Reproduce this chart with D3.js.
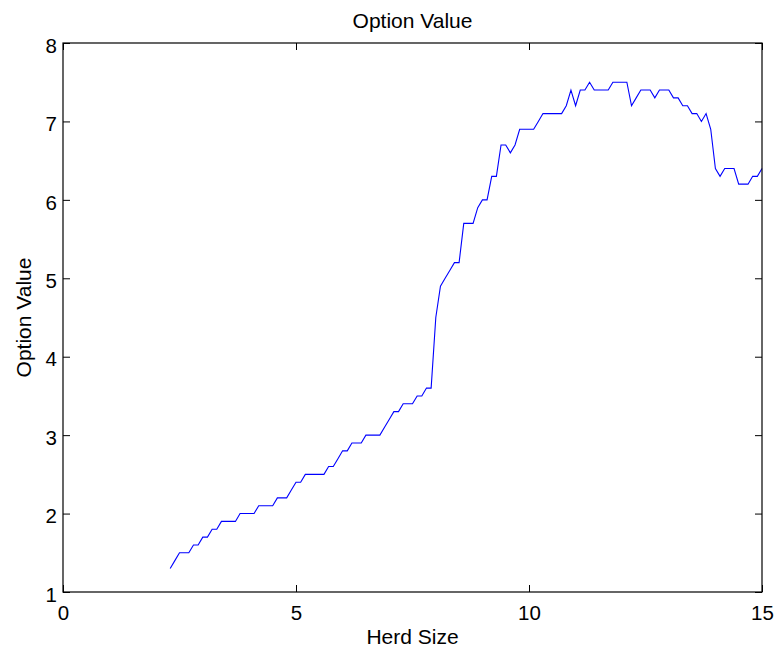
<!DOCTYPE html>
<html>
<head>
<meta charset="utf-8">
<script src="https://cdn.jsdelivr.net/npm/d3@7"></script>
<style>
  html, body { margin: 0; padding: 0; background: #fff; }
  svg { display: block; }
  text { font-family: "Liberation Sans", Arial, Helvetica, sans-serif; fill: #000; }
</style>
</head>
<body>
<svg id="chart" width="778" height="656"></svg>
<script>
// Herd size grid and the corresponding option value
const herdSize = [
  2.3, 2.4, 2.5, 2.6, 2.7, 2.8, 2.9, 3.0, 3.1, 3.2, 3.3, 3.4, 3.5, 3.6, 3.7, 3.8, 3.9,
  4.0, 4.1, 4.2, 4.3, 4.4, 4.5, 4.6, 4.7, 4.8, 4.9, 5.0, 5.1, 5.2, 5.3, 5.4, 5.5, 5.6,
  5.7, 5.8, 5.9, 6.0, 6.1, 6.2, 6.3, 6.4, 6.5, 6.6, 6.7, 6.8, 6.9, 7.0, 7.1, 7.2, 7.3,
  7.4, 7.5, 7.6, 7.7, 7.8, 7.9, 8.0, 8.1, 8.2, 8.3, 8.4, 8.5, 8.6, 8.7, 8.8, 8.9, 9.0,
  9.1, 9.2, 9.3, 9.4, 9.5, 9.6, 9.7, 9.8, 9.9, 10.0, 10.1, 10.2, 10.3, 10.4, 10.5, 10.6,
  10.7, 10.8, 10.9, 11.0, 11.1, 11.2, 11.3, 11.4, 11.5, 11.6, 11.7, 11.8, 11.9, 12.0,
  12.1, 12.2, 12.3, 12.4, 12.5, 12.6, 12.7, 12.8, 12.9, 13.0, 13.1, 13.2, 13.3, 13.4,
  13.5, 13.6, 13.7, 13.8, 13.9, 14.0, 14.1, 14.2, 14.3, 14.4, 14.5, 14.6, 14.7, 14.8,
  14.9, 15.0
];
const optionValue = [
  1.3, 1.4, 1.5, 1.5, 1.5, 1.6, 1.6, 1.7, 1.7, 1.8, 1.8, 1.9, 1.9, 1.9, 1.9, 2.0, 2.0,
  2.0, 2.0, 2.1, 2.1, 2.1, 2.1, 2.2, 2.2, 2.2, 2.3, 2.4, 2.4, 2.5, 2.5, 2.5, 2.5, 2.5,
  2.6, 2.6, 2.7, 2.8, 2.8, 2.9, 2.9, 2.9, 3.0, 3.0, 3.0, 3.0, 3.1, 3.2, 3.3, 3.3, 3.4,
  3.4, 3.4, 3.5, 3.5, 3.6, 3.6, 4.5, 4.9, 5.0, 5.1, 5.2, 5.2, 5.7, 5.7, 5.7, 5.9, 6.0,
  6.0, 6.3, 6.3, 6.7, 6.7, 6.6, 6.7, 6.9, 6.9, 6.9, 6.9, 7.0, 7.1, 7.1, 7.1, 7.1,
  7.1, 7.2, 7.4, 7.2, 7.4, 7.4, 7.5, 7.4, 7.4, 7.4, 7.4, 7.5, 7.5, 7.5,
  7.5, 7.2, 7.3, 7.4, 7.4, 7.4, 7.3, 7.4, 7.4, 7.4, 7.3, 7.3, 7.2, 7.2,
  7.1, 7.1, 7.0, 7.1, 6.9, 6.4, 6.3, 6.4, 6.4, 6.4, 6.2, 6.2, 6.2, 6.3,
  6.3, 6.4
];
const xTicks = [0, 5, 10, 15];
const yTicks = [1, 2, 3, 4, 5, 6, 7, 8];

const titleText = "Option Value";
const xLabel = "Herd Size";
const yLabel = "Option Value";

const plotLeft = 63, plotRight = 762, plotTop = 43, plotBottom = 592;
const svg = d3.select("#chart");

const x = d3.scaleLinear().domain([0, 15]).range([plotLeft, plotRight]);
const y = d3.scaleLinear().domain([1, 8]).range([plotBottom, plotTop]);

const tickLen = 7;
const tickFont = 20.5;
const labelFont = 21;
const fmt = d3.format("d");

// Bottom axis: inward ticks, labels below
const xAxisBottom = d3.axisBottom(x).tickValues(xTicks).tickFormat(fmt).tickSizeInner(-tickLen).tickSizeOuter(0).tickPadding(13);
const gxb = svg.append("g").attr("transform", `translate(0,${plotBottom})`).call(xAxisBottom);
// Top axis: ticks only
const xAxisTop = d3.axisTop(x).tickValues(xTicks).tickSizeInner(-tickLen).tickSizeOuter(0).tickFormat("");
const gxt = svg.append("g").attr("transform", `translate(0,${plotTop})`).call(xAxisTop);
// Left axis: inward ticks, labels left
const yAxisLeft = d3.axisLeft(y).tickValues(yTicks).tickFormat(fmt).tickSizeInner(-tickLen).tickSizeOuter(0).tickPadding(6);
const gyl = svg.append("g").attr("transform", `translate(${plotLeft},0)`).call(yAxisLeft);
// Right axis: ticks only
const yAxisRight = d3.axisRight(y).tickValues(yTicks).tickSizeInner(-tickLen).tickSizeOuter(0).tickFormat("");
const gyr = svg.append("g").attr("transform", `translate(${plotRight},0)`).call(yAxisRight);

[gxb, gxt, gyl, gyr].forEach(g => {
  g.select(".domain").remove();
  g.selectAll(".tick line").attr("stroke", "#000").attr("stroke-width", 1);
  g.selectAll(".tick text")
    .style("font-family", '"Liberation Sans", Arial, sans-serif')
    .style("font-size", tickFont + "px")
    .attr("fill", "#000");
});
gyl.selectAll(".tick text").attr("dy", "0.45em");
gxb.selectAll(".tick text").attr("dy", "0.71em");

// Data line
const line = d3.line()
  .x((d, i) => x(herdSize[i]))
  .y(d => y(d));

svg.append("path")
  .datum(optionValue)
  .attr("fill", "none")
  .attr("stroke", "#0000ff")
  .attr("stroke-width", 1.1)
  .attr("stroke-linejoin", "miter")
  .attr("d", line);

// Axes box
svg.append("rect")
  .attr("x", plotLeft).attr("y", plotTop)
  .attr("width", plotRight - plotLeft).attr("height", plotBottom - plotTop)
  .attr("fill", "none").attr("stroke", "#000").attr("stroke-width", 1.2);

// Title and axis labels
svg.append("text")
  .attr("x", (plotLeft + plotRight) / 2).attr("y", 28)
  .attr("text-anchor", "middle")
  .style("font-size", labelFont + "px")
  .text(titleText);

svg.append("text")
  .attr("x", (plotLeft + plotRight) / 2).attr("y", 644)
  .attr("text-anchor", "middle")
  .style("font-size", labelFont + "px")
  .text(xLabel);

svg.append("text")
  .attr("transform", `translate(31,${(plotTop + plotBottom) / 2}) rotate(-90)`)
  .attr("text-anchor", "middle")
  .style("font-size", labelFont + "px")
  .text(yLabel);
</script>
</body>
</html>
